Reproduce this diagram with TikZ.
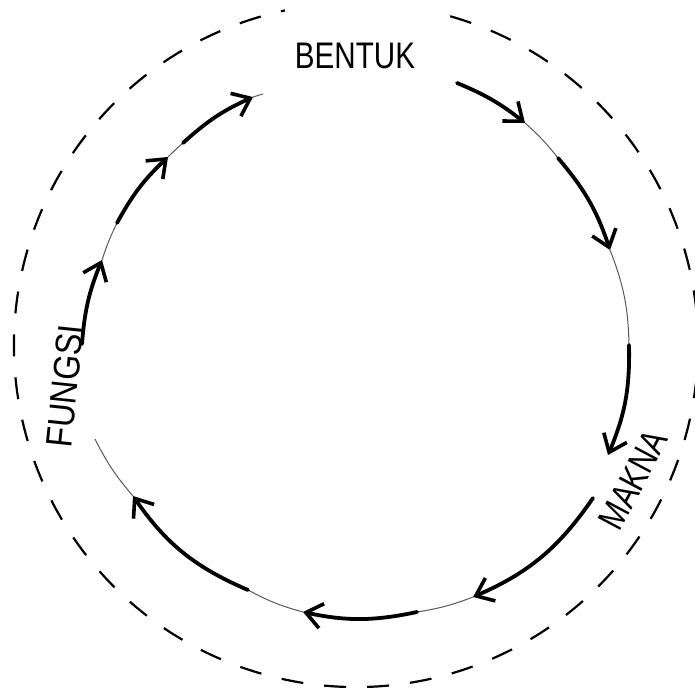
\documentclass[tikz,border=0pt]{standalone}
\usepackage{fontspec}
\newfontfamily\labfont[FakeStretch=0.8]{Liberation Sans}
\newfontfamily\labfontwide[FakeStretch=0.88]{Liberation Sans}
\usetikzlibrary{arrows.meta}
\begin{document}
\begin{tikzpicture}[x=1pt,y=-1pt,
  thickarc/.style={line width=3.8pt, line cap=round,
    -{Straight Barb[length=16pt,width=25pt,line width=3.6pt]}},
  thinarc/.style={line width=1pt, black!65},
  dashring/.style={line width=2.2pt, dash pattern=on 22pt off 21pt},
  lab/.style={font=\labfont\fontsize{37}{42}\selectfont, inner sep=0pt},
  labwide/.style={font=\labfontwide\fontsize{37}{42}\selectfont, inner sep=0pt}]
\useasboundingbox (0,0) rectangle (695,687);
% outer dashed ring
\coordinate (oc) at (356,345);
\draw[dashring] (oc) ++(-74:342) arc[start angle=-74,end angle=258,radius=342];
% points on the inner ring
\coordinate (p1) at (457,83);
\coordinate (p2) at (525,123);
\coordinate (p3) at (558,158);
\coordinate (p4) at (610,250);
\coordinate (p5) at (629,345);
\coordinate (p6) at (608,455);
\coordinate (p7) at (593,498);
\coordinate (p8) at (473,597);
\coordinate (p9) at (417,612);
\coordinate (p10) at (303,612);
\coordinate (p11) at (248,590);
\coordinate (p12) at (133,496);
\coordinate (p13) at (95,439);
\coordinate (p14) at (82,344);
\coordinate (p15) at (102,260);
\coordinate (p16) at (117,223);
\coordinate (p17) at (168,157);
\coordinate (p18) at (183,143);
\coordinate (p19) at (253,97);
\coordinate (p20) at (263,94);
% inner ring
\draw[thickarc] (p1) to[bend left=8] (p2);
\draw[thinarc] (p2) to[bend left=5] (p3);
\draw[thickarc] (p3) to[bend left=11] (p4);
\draw[thinarc] (p4) to[bend left=10] (p5);
\draw[thickarc] (p5) to[bend left=12] (p6);
\draw[thickarc] (p7) to[bend left=16] (p8);
\draw[thinarc] (p8) to[bend left=6] (p9);
\draw[thickarc] (p9) to[bend left=12] (p10);
\draw[thinarc] (p10) to[bend left=6.5] (p11);
\draw[thickarc] (p11) to[bend left=16] (p12);
\draw[thinarc] (p12) to[bend left=7] (p13);
\draw[thickarc] (p14) to[bend left=9] (p15);
\draw[thinarc] (p15) to[bend left=4] (p16);
\draw[thickarc] (p16) to[bend left=9] (p17);
\draw[thinarc] (p17) to[bend left=2] (p18);
\draw[thickarc] (p18) to[bend left=9] (p19);
\draw[thinarc] (p19) to[bend left=1] (p20);
% labels
\node[lab] (bentuk) at (355,56) {BENTUK};
\node[labwide, rotate=84] (fungsi) at (65,386) {FUNGSI};
\node[lab, rotate=62] (makna) at (633,480) {MAKNA};
\end{tikzpicture}
\end{document}
